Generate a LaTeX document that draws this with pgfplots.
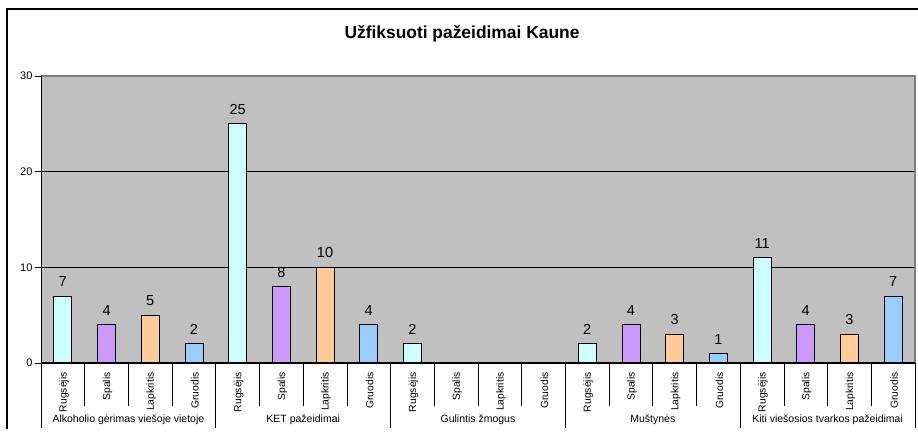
\documentclass[border=0pt]{standalone}
\usepackage{fontspec}
\setmainfont{Liberation Sans}
\usepackage{pgfplots}
\pgfplotsset{compat=1.18}
\definecolor{bgray}{HTML}{C0C0C0}
\definecolor{bordg}{HTML}{808080}
\definecolor{cA}{HTML}{CCFFFF}
\definecolor{cB}{HTML}{CC99FF}
\definecolor{cC}{HTML}{FFCC99}
\definecolor{cD}{HTML}{99CCFF}
\begin{document}
\begin{tikzpicture}[x=1pt,y=1pt]
\useasboundingbox (0,0) rectangle (918,435);
\draw[line width=1.3pt] (7,6) -- (7,426) -- (918,426);
\node[font=\bfseries\fontsize{17.4}{18}\selectfont] at (462,401) {Užfiksuoti pažeidimai Kaune};
\begin{axis}[at={(41pt,72pt)}, anchor=south west, scale only axis,
  width=874pt, height=287pt,
  xmin=-0.5, xmax=19.5, ymin=0, ymax=30,
  ytick={0,10,20,30},
  /pgf/number format/assume math mode=true,
  yticklabel style={font=\fontsize{11}{12}\selectfont, xshift=1pt},
  tick pos=left, tick align=outside, major tick length=6pt,
  ytick style={black, line width=0.8pt},
  xtick={0,...,19},
  xticklabels={Rugsėjis,Spalis,Lapkritis,Gruodis,Rugsėjis,Spalis,Lapkritis,Gruodis,Rugsėjis,Spalis,Lapkritis,Gruodis,Rugsėjis,Spalis,Lapkritis,Gruodis,Rugsėjis,Spalis,Lapkritis,Gruodis},
  xtick style={draw=none},
  xticklabel style={rotate=90, anchor=east, font=\fontsize{10.3}{11}\selectfont, yshift=-1pt, xshift=0pt},
  axis line style={draw=none},
  axis background/.style={fill=bgray},
  ymajorgrids, grid style={black, line width=0.8pt},
  ybar, bar width=18pt, bar shift=0pt,
  nodes near coords,
  every node near coord/.append style={font=\fontsize{14.5}{15}\selectfont, black, yshift=5.5pt},
  clip=false]
\addplot[fill=cA, draw=black, line width=0.8pt] coordinates {(0,7) (4,25) (8,2) (12,2) (16,11)};
\addplot[fill=cB, draw=black, line width=0.8pt] coordinates {(1,4) (5,8) (13,4) (17,4)};
\addplot[fill=cC, draw=black, line width=0.8pt] coordinates {(2,5) (6,10) (14,3) (18,3)};
\addplot[fill=cD, draw=black, line width=0.8pt] coordinates {(3,2) (7,4) (15,1) (19,7)};
\draw[bordg, line width=1.2pt] (rel axis cs:0,1) -- (rel axis cs:1,1) -- (rel axis cs:1,0);
\draw[black, line width=1pt] (rel axis cs:0,1) -- (rel axis cs:0,0) -- (rel axis cs:1,0);
\pgfplotsinvokeforeach{0.5,1.5,2.5,4.5,5.5,6.5,8.5,9.5,10.5,12.5,13.5,14.5,16.5,17.5,18.5}{
  \draw[black, line width=0.8pt] (axis cs:#1,0) -- ++(0pt,-43pt);
}
\pgfplotsinvokeforeach{-0.5,3.5,7.5,11.5,15.5,19.5}{
  \draw[black, line width=0.8pt] (axis cs:#1,0) -- ++(0pt,-65pt);
}
\node[font=\fontsize{10.5}{12}\selectfont] at ([yshift=-57pt]axis cs:1.5,0) {Alkoholio gėrimas viešoje vietoje};
\node[font=\fontsize{10.5}{12}\selectfont] at ([yshift=-57pt]axis cs:5.5,0) {KET pažeidimai};
\node[font=\fontsize{10.5}{12}\selectfont] at ([yshift=-57pt]axis cs:9.5,0) {Gulintis žmogus};
\node[font=\fontsize{10.5}{12}\selectfont] at ([yshift=-57pt]axis cs:13.5,0) {Muštynės};
\node[font=\fontsize{10.5}{12}\selectfont] at ([yshift=-57pt]axis cs:17.5,0) {Kiti viešosios tvarkos pažeidimai};
\end{axis}
\end{tikzpicture}
\end{document}
